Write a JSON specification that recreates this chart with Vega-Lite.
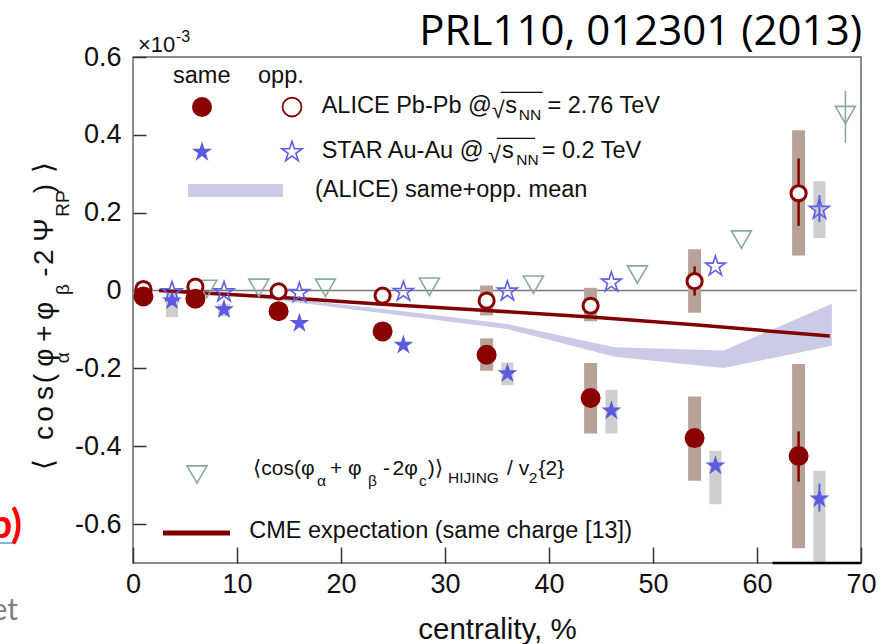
{
  "$schema": "https://vega.github.io/schema/vega-lite/v6.json",
  "width": 728,
  "height": 506,
  "autosize": {"type": "none"},
  "padding": {"left": 133, "top": 57, "right": 24, "bottom": 81},
  "background": "white",
  "config": {"view": {"stroke": "#666666", "strokeWidth": 1.5}, "font": "Liberation Sans"},
  "datasets": {
    "aliceSame": [{"x":1,"y":-0.015},{"x":6,"y":-0.021},{"x":14,"y":-0.053},{"x":24,"y":-0.105},{"x":34,"y":-0.165},{"x":44,"y":-0.276},{"x":54,"y":-0.379},{"x":64,"y":-0.425}],
    "aliceOpp": [{"x":1,"y":0.004},{"x":6,"y":0.010},{"x":14,"y":-0.002},{"x":24,"y":-0.013},{"x":34,"y":-0.026},{"x":44,"y":-0.039},{"x":54,"y":0.024},{"x":64,"y":0.250}],
    "aliceSys": [{"x":34,"y":0.013,"y2":-0.064},{"x":34,"y":-0.123,"y2":-0.206},{"x":44,"y":0.007,"y2":-0.079},{"x":44,"y":-0.186,"y2":-0.367},{"x":54,"y":0.106,"y2":-0.057},{"x":54,"y":-0.272,"y2":-0.489},{"x":64,"y":0.412,"y2":0.090},{"x":64,"y":-0.189,"y2":-0.662}],
    "aliceErr": [{"x":54,"y":0.062,"y2":-0.013},{"x":64,"y":0.339,"y2":0.166},{"x":64,"y":-0.362,"y2":-0.491}],
    "starSame": [{"x":3.75,"y":-0.026},{"x":8.75,"y":-0.049},{"x":16,"y":-0.084},{"x":26,"y":-0.140},{"x":36,"y":-0.213},{"x":46,"y":-0.309},{"x":56,"y":-0.450},{"x":66,"y":-0.535}],
    "starOpp": [{"x":3.75,"y":-0.004},{"x":8.75,"y":-0.004},{"x":16,"y":-0.006},{"x":26,"y":-0.003},{"x":36,"y":-0.002},{"x":46,"y":0.021},{"x":56,"y":0.062},{"x":66,"y":0.208}],
    "starSys": [{"x":3.75,"y":-0.005,"y2":-0.068},{"x":8.75,"y":-0.035,"y2":-0.066},{"x":36,"y":-0.185,"y2":-0.243},{"x":46,"y":-0.255,"y2":-0.367},{"x":56,"y":-0.412,"y2":-0.549},{"x":66,"y":-0.463,"y2":-0.70},{"x":66,"y":0.281,"y2":0.135}],
    "starErr": [{"x":66,"y":0.245,"y2":0.176},{"x":66,"y":-0.496,"y2":-0.568}],
    "hijing": [{"x":7.1,"y":0.004},{"x":12.1,"y":0.007},{"x":18.5,"y":0.007},{"x":28.5,"y":0.010},{"x":38.5,"y":0.015},{"x":48.5,"y":0.041},{"x":58.5,"y":0.131},{"x":68.5,"y":0.451}],
    "hijingErr": [{"x":68.5,"y":0.513,"y2":0.380}],
    "cme": [{"x":2.5,"y":0},{"x":14,"y":-0.017},{"x":24,"y":-0.035},{"x":34,"y":-0.051},{"x":44,"y":-0.068},{"x":54,"y":-0.088},{"x":67,"y":-0.117}],
    "band": [{"x":3,"y":-0.002,"y2":-0.006},{"x":8,"y":-0.003,"y2":-0.009},{"x":16,"y":-0.0235,"y2":-0.0315},{"x":26,"y":-0.053,"y2":-0.065},{"x":36,"y":-0.086,"y2":-0.099},{"x":46.3,"y":-0.146,"y2":-0.170},{"x":56.8,"y":-0.154,"y2":-0.199},{"x":67.2,"y":-0.034,"y2":-0.142}],
    "zero": [{"x":0,"x2":69.6,"y":0}],
    "legFilledCircle": [{"x":6.635,"y":0.4715}],
    "legOpenCircle": [{"x":15.29,"y":0.4715}],
    "legFilledStar": [{"x":6.635,"y":0.3559}],
    "legOpenStar": [{"x":15.29,"y":0.3559}],
    "legTriangle": [{"x":6.15,"y":-0.4727}],
    "legBand": [{"x":5.29,"x2":14.42,"y":0.2737,"y2":0.2403}],
    "legCme": [{"x":2.88,"x2":9.33,"y":-0.6231}],
    "overlines": [{"x":35.35,"x2":39.4,"y":0.5093},{"x":35.0,"x2":38.654,"y":0.3911}],
    "blackSeg": [{"x":61.5,"x2":70,"y":-0.7}],
    "blueSeg": [{"x":-12.79,"x2":-11.35,"y":-0.6487}],
    "legText": [
      {"x":3.846,"y":0.5332,"t":"same"},
      {"x":12.019,"y":0.5332,"t":"opp."},
      {"x":18.144,"y":0.4553,"t":"ALICE Pb-Pb @"},
      {"x":34.5,"y":0.4433,"t":"√"},
      {"x":35.8,"y":0.4553,"t":"s"},
      {"x":39.85,"y":0.4553,"t":"= 2.76 TeV"},
      {"x":18.144,"y":0.3397,"t":"STAR Au-Au @"},
      {"x":34.13,"y":0.3276,"t":"√"},
      {"x":35.48,"y":0.3397,"t":"s"},
      {"x":39.298,"y":0.3397,"t":"= 0.2 TeV"},
      {"x":17.5,"y":0.2411,"t":"(ALICE) same+opp. mean"},
      {"x":11.18,"y":-0.637,"t":"CME expectation (same charge [13])"}
    ],
    "subText": [
      {"x":37.1,"y":0.4381,"t":"NN"},
      {"x":36.85,"y":0.3225,"t":"NN"},
      {"x":17.692,"y":-0.5023,"t":"α"},
      {"x":22.596,"y":-0.5023,"t":"β"},
      {"x":27.5,"y":-0.5023,"t":"c"},
      {"x":30.3,"y":-0.4946,"t":"HIJING"},
      {"x":38.05,"y":-0.4946,"t":"2"}
    ],
    "supText": [{"x":4.13,"y":0.6385,"t":"-3"}],
    "hijingText": [
      {"x":11.567,"y":-0.474,"t":"⟨cos(φ"},
      {"x":18.942,"y":-0.474,"t":"+ φ"},
      {"x":24.038,"y":-0.474,"t":"-"},
      {"x":24.95,"y":-0.474,"t":"2φ"},
      {"x":28.35,"y":-0.474,"t":")⟩"},
      {"x":35.962,"y":-0.474,"t":"/ v"},
      {"x":39.0,"y":-0.474,"t":"{2}"}
    ],
    "yTitleMain": [
      {"x":-7.69,"y":-0.4612,"t":"⟨"},
      {"x":-7.69,"y":-0.3841,"t":"c"},
      {"x":-7.69,"y":-0.3370,"t":"o"},
      {"x":-7.69,"y":-0.2813,"t":"s"},
      {"x":-7.69,"y":-0.2384,"t":"("},
      {"x":-7.69,"y":-0.1957,"t":"φ"},
      {"x":-7.69,"y":-0.1315,"t":"+"},
      {"x":-7.69,"y":-0.0757,"t":"φ"},
      {"x":-7.69,"y":0.0355,"t":"-"},
      {"x":-7.69,"y":0.0656,"t":"2"},
      {"x":-7.69,"y":0.1255,"t":"Ψ"},
      {"x":-7.69,"y":0.2498,"t":")"},
      {"x":-7.69,"y":0.3012,"t":"⟩"}
    ],
    "yTitleSub": [
      {"x":-6.2,"y":-0.187,"t":"α"},
      {"x":-6.2,"y":-0.0115,"t":"β"},
      {"x":-6.2,"y":0.1897,"t":"RP"}
    ],
    "titleText": [{"x":70.1,"y":0.6308,"t":"PRL110, 012301 (2013)"}],
    "expText": [{"x":0.48,"y":0.6128,"t":"×10"}],
    "redText": [{"x":-10.67,"y":-0.636,"t":"b)"}],
    "grayText": [{"x":-11.06,"y":-0.8466,"t":"et"}]
  },
  "encoding": {
    "x": {
      "field": "x", "type": "quantitative",
      "scale": {"domain": [0, 70], "nice": false, "zero": false},
      "axis": {
        "values": [0, 10, 20, 30, 40, 50, 60, 70],
        "tickSize": -16, "tickColor": "#333333", "tickWidth": 1.5,
        "domain": false, "grid": false,
        "labelFontSize": 27, "labelFont": "Liberation Sans", "labelColor": "#111111",
        "labelPadding": 24, "labelFlush": false, "labelOverlap": false,
        "title": "centrality, %", "titleFontSize": 29.5, "titleFontWeight": "normal",
        "titleFont": "Liberation Sans", "titleColor": "#111111",
        "titleY": 75, "titleBaseline": "alphabetic"
      }
    },
    "y": {
      "field": "y", "type": "quantitative",
      "scale": {"domain": [-0.7, 0.6], "nice": false, "zero": false},
      "axis": {
        "values": [-0.6, -0.4, -0.2, 0, 0.2, 0.4, 0.6],
        "labelExpr": "datum.value == 0 ? '0' : (datum.value < 0 ? '-' : '') + format(abs(datum.value), '.1f')",
        "tickSize": -13, "tickColor": "#333333", "tickWidth": 1.5,
        "domain": false, "grid": false,
        "labelFontSize": 27, "labelFont": "Liberation Sans", "labelColor": "#111111",
        "labelPadding": 25, "labelOverlap": false,
        "title": null
      }
    }
  },
  "layer": [
    {"data": {"name": "zero"}, "mark": {"type": "rule", "color": "#777777", "strokeWidth": 1.5}, "encoding": {"x2": {"field": "x2"}}},
    {"data": {"name": "starSys"}, "mark": {"type": "rule", "color": "#cfcfcf", "strokeWidth": 12, "strokeCap": "butt"}, "encoding": {"y2": {"field": "y2"}}},
    {"data": {"name": "aliceSys"}, "mark": {"type": "rule", "color": "#b7a29a", "strokeWidth": 13, "strokeCap": "butt"}, "encoding": {"y2": {"field": "y2"}}},
    {"data": {"name": "band"}, "mark": {"type": "area", "color": "#cbcbe8", "opacity": 1}, "encoding": {"y2": {"field": "y2"}}},
    {"data": {"name": "cme"}, "mark": {"type": "line", "color": "#800000", "strokeWidth": 3.5}, "encoding": {}},
    {"data": {"name": "hijingErr"}, "mark": {"type": "rule", "color": "#8aab98", "strokeWidth": 1.6}, "encoding": {"y2": {"field": "y2"}}},
    {"data": {"name": "hijing"}, "mark": {"type": "point", "shape": "triangle-down", "filled": false, "stroke": "#8aab98", "strokeWidth": 1.6, "size": 400, "opacity": 1}, "encoding": {}},
    {"data": {"name": "starErr"}, "mark": {"type": "rule", "color": "#5b5bdf", "strokeWidth": 2}, "encoding": {"y2": {"field": "y2"}}},
    {"data": {"name": "starSame"}, "mark": {"type": "point", "shape": "M0,-1L0.2245,-0.309L0.951,-0.309L0.3633,0.118L0.588,0.809L0,0.382L-0.588,0.809L-0.3633,0.118L-0.951,-0.309L-0.2245,-0.309Z", "filled": true, "color": "#5b5bdf", "size": 440, "opacity": 1}, "encoding": {}},
    {"data": {"name": "starOpp"}, "mark": {"type": "point", "shape": "M0,-1L0.2245,-0.309L0.951,-0.309L0.3633,0.118L0.588,0.809L0,0.382L-0.588,0.809L-0.3633,0.118L-0.951,-0.309L-0.2245,-0.309Z", "filled": false, "stroke": "#6060e6", "strokeWidth": 1.6, "size": 440, "opacity": 1}, "encoding": {}},
    {"data": {"name": "aliceErr"}, "mark": {"type": "rule", "color": "#880000", "strokeWidth": 2.5}, "encoding": {"y2": {"field": "y2"}}},
    {"data": {"name": "aliceOpp"}, "mark": {"type": "point", "shape": "circle", "filled": true, "fill": "white", "stroke": "#880000", "strokeWidth": 3, "size": 230, "opacity": 1}, "encoding": {}},
    {"data": {"name": "aliceSame"}, "mark": {"type": "point", "shape": "circle", "filled": true, "color": "#880000", "size": 400, "opacity": 1}, "encoding": {}},
    {"data": {"name": "legFilledCircle"}, "mark": {"type": "point", "shape": "circle", "filled": true, "color": "#880000", "size": 400, "opacity": 1}, "encoding": {}},
    {"data": {"name": "legOpenCircle"}, "mark": {"type": "point", "shape": "circle", "filled": true, "fill": "white", "stroke": "#880000", "strokeWidth": 1.8, "size": 360, "opacity": 1}, "encoding": {}},
    {"data": {"name": "legFilledStar"}, "mark": {"type": "point", "shape": "M0,-1L0.2245,-0.309L0.951,-0.309L0.3633,0.118L0.588,0.809L0,0.382L-0.588,0.809L-0.3633,0.118L-0.951,-0.309L-0.2245,-0.309Z", "filled": true, "color": "#5b5bdf", "size": 460, "opacity": 1}, "encoding": {}},
    {"data": {"name": "legOpenStar"}, "mark": {"type": "point", "shape": "M0,-1L0.2245,-0.309L0.951,-0.309L0.3633,0.118L0.588,0.809L0,0.382L-0.588,0.809L-0.3633,0.118L-0.951,-0.309L-0.2245,-0.309Z", "filled": false, "stroke": "#6060e6", "strokeWidth": 1.6, "size": 460, "opacity": 1}, "encoding": {}},
    {"data": {"name": "legTriangle"}, "mark": {"type": "point", "shape": "triangle-down", "filled": false, "stroke": "#8aab98", "strokeWidth": 1.6, "size": 400, "opacity": 1}, "encoding": {}},
    {"data": {"name": "legBand"}, "mark": {"type": "rect", "color": "#cbcbe8"}, "encoding": {"x2": {"field": "x2"}, "y2": {"field": "y2"}}},
    {"data": {"name": "legCme"}, "mark": {"type": "rule", "color": "#800000", "strokeWidth": 5}, "encoding": {"x2": {"field": "x2"}}},
    {"data": {"name": "overlines"}, "mark": {"type": "rule", "color": "#111111", "strokeWidth": 1.3}, "encoding": {"x2": {"field": "x2"}}},
    {"data": {"name": "blackSeg"}, "mark": {"type": "rule", "color": "#000000", "strokeWidth": 2.5}, "encoding": {"x2": {"field": "x2"}}},
    {"data": {"name": "blueSeg"}, "mark": {"type": "rule", "color": "#5b9bd5", "strokeWidth": 1.5}, "encoding": {"x2": {"field": "x2"}}},
    {"data": {"name": "legText"}, "mark": {"type": "text", "align": "left", "baseline": "alphabetic", "font": "Liberation Sans", "fontSize": 23.5, "color": "#111111"}, "encoding": {"text": {"field": "t"}}},
    {"data": {"name": "subText"}, "mark": {"type": "text", "align": "left", "baseline": "alphabetic", "font": "Liberation Sans", "fontSize": 15.5, "color": "#111111"}, "encoding": {"text": {"field": "t"}}},
    {"data": {"name": "supText"}, "mark": {"type": "text", "align": "left", "baseline": "alphabetic", "font": "Liberation Sans", "fontSize": 16, "color": "#111111"}, "encoding": {"text": {"field": "t"}}},
    {"data": {"name": "hijingText"}, "mark": {"type": "text", "align": "left", "baseline": "alphabetic", "font": "Liberation Sans", "fontSize": 21, "color": "#111111"}, "encoding": {"text": {"field": "t"}}},
    {"data": {"name": "yTitleMain"}, "mark": {"type": "text", "align": "left", "baseline": "alphabetic", "angle": 270, "font": "Liberation Sans", "fontSize": 28, "color": "#111111"}, "encoding": {"text": {"field": "t"}}},
    {"data": {"name": "yTitleSub"}, "mark": {"type": "text", "align": "left", "baseline": "alphabetic", "angle": 270, "font": "Liberation Sans", "fontSize": 19, "color": "#111111"}, "encoding": {"text": {"field": "t"}}},
    {"data": {"name": "titleText"}, "mark": {"type": "text", "align": "right", "baseline": "alphabetic", "font": "Open Sans", "fontSize": 42, "color": "#000000"}, "encoding": {"text": {"field": "t"}}},
    {"data": {"name": "expText"}, "mark": {"type": "text", "align": "left", "baseline": "alphabetic", "font": "Liberation Sans", "fontSize": 22, "color": "#111111"}, "encoding": {"text": {"field": "t"}}},
    {"data": {"name": "redText"}, "mark": {"type": "text", "align": "right", "baseline": "alphabetic", "font": "Lato", "fontWeight": "bold", "fontSize": 40, "color": "#ff0000"}, "encoding": {"text": {"field": "t"}}},
    {"data": {"name": "grayText"}, "mark": {"type": "text", "align": "right", "baseline": "alphabetic", "font": "Lato", "fontSize": 30, "color": "#7f7f7f"}, "encoding": {"text": {"field": "t"}}}
  ]
}
